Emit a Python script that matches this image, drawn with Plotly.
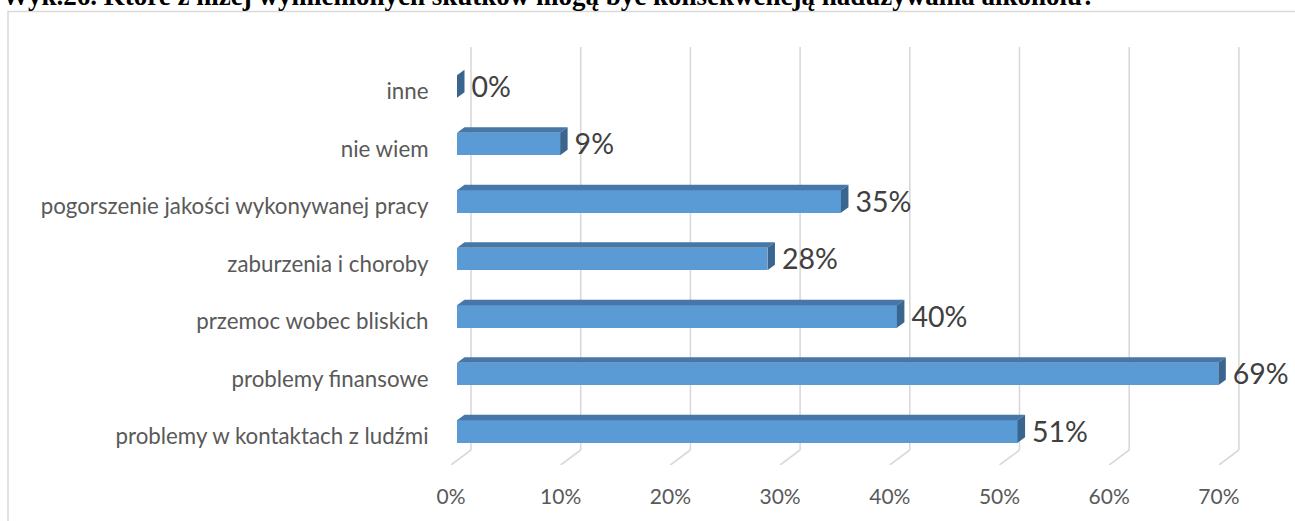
import plotly.graph_objects as go

# ---- data ----
categories = [
    "problemy w kontaktach z ludźmi",
    "problemy finansowe",
    "przemoc wobec bliskich",
    "zaburzenia i choroby",
    "pogorszenie jakości wykonywanej pracy",
    "nie wiem",
    "inne",
]
values = [51.1, 69.4, 40.1, 28.3, 35.0, 9.4, 0.0]
x_ticks = [0, 10, 20, 30, 40, 50, 60, 70]
x_tick_labels = ["0%", "10%", "20%", "30%", "40%", "50%", "60%", "70%"]
title_text = "Wyk.26. Które z niżej wymienionych skutków mogą być konsekwencją nadużywania alkoholu?"

# ---- geometry (pixel-calibrated) ----
W, H = 1295, 521
ML, MR, MT, MB = 440, 5, 47, 56
PX_PER_X = 10.97
PX_PER_Y = 57.5
X0_PIX = 457
plot_w = W - ML - MR
plot_h = H - MT - MB
x_range = [(ML - X0_PIX) / PX_PER_X, (ML + plot_w - X0_PIX) / PX_PER_X]
y_bottom = -(H - MB - 431.5) / PX_PER_Y
y_range = [y_bottom, y_bottom + plot_h / PX_PER_Y]

bar_w = 22.5 / PX_PER_Y
h = bar_w / 2
dx = 7.5 / PX_PER_X
dy = 5.5 / PX_PER_Y
back_off = 14 / PX_PER_X
front_off = -6 / PX_PER_X
floor_back_y = -(450 - 431.5) / PX_PER_Y
label_gap = 7 / PX_PER_X
label_dy = -3 / PX_PER_Y
cat_dy = -5 / PX_PER_Y

ypos = list(range(len(categories)))

front = "#5B9BD5"
top_c = "#4677A8"
side_c = "#3A658F"
grid_c = "#D9D9D9"

fig = go.Figure()

# front faces
fig.add_trace(go.Bar(x=values, y=ypos, orientation="h", width=bar_w, base=0,
                     marker=dict(color=front, line=dict(width=0)), showlegend=False,
                     hoverinfo="skip"))

# top faces
tx, ty = [], []
for v, y in zip(values, ypos):
    if v <= 0:
        continue
    tx += [0, v, v + dx, dx, 0, None]
    ty += [y + h, y + h, y + h + dy, y + h + dy, y + h, None]
fig.add_trace(go.Scatter(x=tx, y=ty, mode="lines", fill="toself", fillcolor=top_c,
                         line=dict(width=0, color=top_c), hoverinfo="skip", showlegend=False))

# side faces
sx, sy = [], []
for v, y in zip(values, ypos):
    sx += [v, v, v + dx, v + dx, v, None]
    sy += [y - h, y + h, y + h + dy, y - h + dy, y - h, None]
fig.add_trace(go.Scatter(x=sx, y=sy, mode="lines", fill="toself", fillcolor=side_c,
                         line=dict(width=0, color=side_c), hoverinfo="skip", showlegend=False))

# data labels
fig.add_trace(go.Scatter(x=[v + dx + label_gap for v in values], y=[y + label_dy for y in ypos],
                         mode="text", text=[f"{round(v)}%" for v in values],
                         textposition="middle right",
                         textfont=dict(family="Lato", size=28.5, color="#404040"),
                         hoverinfo="skip", showlegend=False, cliponaxis=False))

# gridlines (back wall + floor) as shapes below the bars
shapes = []
for v in x_ticks:
    shapes.append(dict(type="line", xref="x", yref="y", x0=v + back_off, x1=v + back_off,
                       y0=y_range[1], y1=floor_back_y, line=dict(color=grid_c, width=1.6), layer="below"))
    shapes.append(dict(type="line", xref="x", yref="y", x0=v + back_off, x1=v + front_off,
                       y0=floor_back_y, y1=y_range[0], line=dict(color=grid_c, width=1.6), layer="below"))
shapes.append(dict(type="rect", xref="paper", yref="paper",
                   x0=(8 - ML) / plot_w, x1=(1300 - ML) / plot_w,
                   y0=(H - MB - 530) / plot_h, y1=(H - MB - 11.5) / plot_h,
                   line=dict(color=grid_c, width=1.5), fillcolor="rgba(0,0,0,0)", layer="below"))

fig.update_layout(
    width=W, height=H,
    margin=dict(l=ML, r=MR, t=MT, b=MB),
    paper_bgcolor="white", plot_bgcolor="white",
    font=dict(family="Lato", color="#595959"),
    bargap=0,
    hovermode=False,
    xaxis=dict(range=x_range, showgrid=False, zeroline=False, showline=False,
               tickmode="array", tickvals=[v + front_off for v in x_ticks], ticktext=x_tick_labels,
               ticks="outside", ticklen=13, tickcolor="rgba(0,0,0,0)",
               tickfont=dict(family="Lato", size=21, color="#595959"), automargin=False, fixedrange=True),
    yaxis=dict(range=y_range, showgrid=False, zeroline=False, showline=False,
               tickmode="array", tickvals=[y + cat_dy for y in ypos], ticktext=categories,
               ticks="outside", ticklen=6, tickcolor="rgba(0,0,0,0)",
               tickfont=dict(family="Lato", size=22.3, color="#595959"), automargin=False, fixedrange=True),
    shapes=shapes,
    annotations=[dict(text=f"<b>{title_text}</b>", xref="paper", yref="paper",
                      x=(0 - ML) / plot_w, xanchor="left",
                      y=(H - MB - (-4)) / plot_h, yanchor="middle", showarrow=False,
                      font=dict(family="Liberation Serif", size=27, color="black"))],
)

fig.write_html("out.html", config={"displayModeBar": False},
               post_script="document.body.style.margin='0px';document.body.style.padding='0px';")
